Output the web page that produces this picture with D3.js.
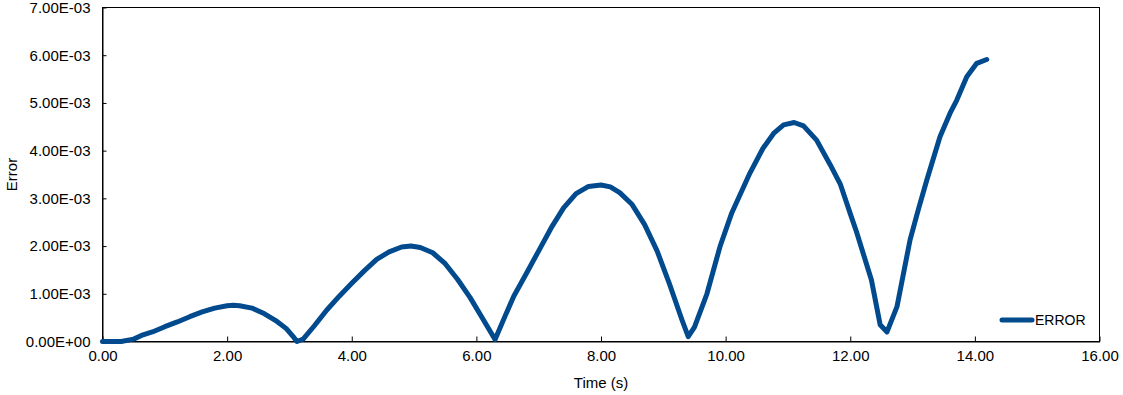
<!DOCTYPE html>
<html>
<head>
<meta charset="utf-8">
<script src="https://cdn.jsdelivr.net/npm/d3@7"></script>
<style>
  body { margin: 0; background: #fff; }
  svg { display: block; font-family: "Liberation Sans", Arial, sans-serif; }
</style>
</head>
<body>
<div id="chart"></div>
<script>
// Error vs time (error in units of 1e-3)
const timeValues = [0, 0.3, 0.5, 0.65, 0.8, 1.0, 1.2, 1.4, 1.6, 1.8, 2.0, 2.1, 2.2, 2.4, 2.6, 2.8,
  2.95, 3.05, 3.12, 3.22, 3.4, 3.6, 3.8, 4.0, 4.2, 4.4, 4.6, 4.8, 4.95, 5.1, 5.3, 5.5, 5.7, 5.9,
  6.1, 6.3, 6.45, 6.6, 6.8, 7.0, 7.2, 7.4, 7.6, 7.8, 8.0, 8.15, 8.3, 8.5, 8.7, 8.9, 9.1, 9.3, 9.4,
  9.5, 9.7, 9.91, 10.1, 10.39, 10.6, 10.77, 10.93, 11.1, 11.25, 11.46, 11.68, 11.84, 12.0, 12.1,
  12.34, 12.48, 12.59, 12.75, 12.96, 13.1, 13.23, 13.44, 13.6, 13.71, 13.87, 14.03, 14.19];
const errorMilli = [0, 0, 0.05, 0.14, 0.2, 0.31, 0.41, 0.52, 0.62, 0.7, 0.75, 0.76, 0.75, 0.7,
  0.58, 0.42, 0.27, 0.12, 0.0, 0.05, 0.33, 0.66, 0.95, 1.22, 1.48, 1.72, 1.88, 1.98, 2.0, 1.97,
  1.86, 1.63, 1.3, 0.92, 0.48, 0.04, 0.5, 0.95, 1.42, 1.9, 2.38, 2.8, 3.1, 3.25, 3.28, 3.24, 3.12,
  2.87, 2.45, 1.9, 1.2, 0.45, 0.1, 0.3, 1.0, 1.99, 2.7, 3.53, 4.05, 4.36, 4.54, 4.59, 4.52, 4.22,
  3.7, 3.3, 2.68, 2.3, 1.29, 0.35, 0.2, 0.73, 2.13, 2.8, 3.39, 4.29, 4.78, 5.06, 5.55, 5.83, 5.91];
const xTicks = [0, 2, 4, 6, 8, 10, 12, 14, 16];
const yTicks = [0, 1e-3, 2e-3, 3e-3, 4e-3, 5e-3, 6e-3, 7e-3];
const seriesName = "ERROR";

const data = timeValues.map((t, i) => ({ t: t, v: errorMilli[i] * 1e-3 }));

const width = 1123, height = 395;
const margin = { top: 7.5, right: 23.5, bottom: 53.5, left: 102.5 };
const plotW = width - margin.left - margin.right;
const plotH = height - margin.top - margin.bottom;
const color = "#004a8d";
const fontSize = "15px";

const svg = d3.select("#chart")
  .append("svg")
  .attr("width", width)
  .attr("height", height);

const g = svg.append("g")
  .attr("transform", `translate(${margin.left},${margin.top})`);

const x = d3.scaleLinear().domain([0, 16]).range([0, plotW]);
const y = d3.scaleLinear().domain([0, 7e-3]).range([plotH, 0]);

// E-notation like "7.00E-03"
function sci(v) {
  if (v === 0) return "0.00E+00";
  const e = Math.floor(Math.log10(Math.abs(v)) + 1e-9);
  const m = v / Math.pow(10, e);
  const sign = e < 0 ? "-" : "+";
  return m.toFixed(2) + "E" + sign + String(Math.abs(e)).padStart(2, "0");
}

// frame
g.append("rect")
  .attr("width", plotW)
  .attr("height", plotH)
  .attr("fill", "none")
  .attr("stroke", "#000")
  .attr("stroke-width", 1);

const yAxis = g.append("g")
  .call(d3.axisLeft(y).tickValues(yTicks).tickFormat(sci).tickSizeInner(-4).tickSizeOuter(0).tickPadding(12));
const xAxis = g.append("g")
  .attr("transform", `translate(0,${plotH})`)
  .call(d3.axisBottom(x).tickValues(xTicks).tickFormat(d3.format(".2f")).tickSizeInner(-5).tickSizeOuter(0).tickPadding(9));

[yAxis, xAxis].forEach(a => {
  a.select(".domain").attr("stroke", "#000");
  a.selectAll(".tick line").attr("stroke", "#000");
  a.selectAll(".tick text")
    .attr("fill", "#000")
    .style("font-size", fontSize)
    .style("font-family", "'Liberation Sans', Arial, sans-serif");
});

const line = d3.line()
  .x(d => x(d.t))
  .y(d => y(d.v));

g.append("path")
  .datum(data)
  .attr("fill", "none")
  .attr("stroke", color)
  .attr("stroke-width", 5)
  .attr("stroke-linejoin", "round")
  .attr("stroke-linecap", "round")
  .attr("d", line);

// axis titles
svg.append("text")
  .attr("x", margin.left + plotW / 2)
  .attr("y", 388)
  .attr("text-anchor", "middle")
  .style("font-size", fontSize)
  .text("Time (s)");

svg.append("text")
  .attr("transform", `translate(17,${margin.top + plotH / 2}) rotate(-90)`)
  .attr("text-anchor", "middle")
  .style("font-size", fontSize)
  .text("Error");

// legend
const leg = svg.append("g").attr("transform", "translate(1002,320)");
leg.append("line")
  .attr("x1", 0).attr("x2", 30)
  .attr("stroke", color)
  .attr("stroke-width", 5)
  .attr("stroke-linecap", "round");
leg.append("text")
  .attr("x", 33)
  .attr("y", 5)
  .style("font-size", "14px")
  .text(seriesName);
</script>
</body>
</html>
